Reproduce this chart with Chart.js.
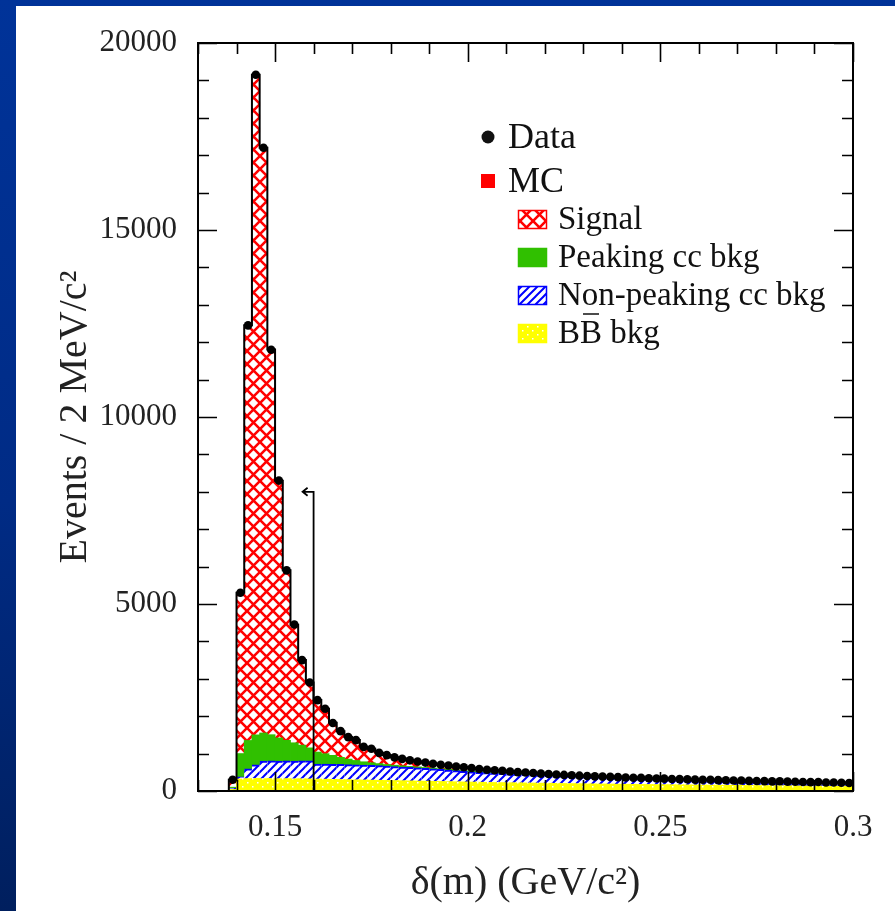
<!DOCTYPE html>
<html>
<head>
<meta charset="utf-8">
<script src="https://cdn.jsdelivr.net/npm/chart.js@4.4.1/dist/chart.umd.min.js"></script>
<style>
    html, body { margin: 0; padding: 0; }
    body {
        width: 895px; height: 911px; position: relative; overflow: hidden;
        background: linear-gradient(to bottom, #003399 0%, #002b85 55%, #001f5e 100%);
    }
    #panel { position: absolute; left: 16px; top: 6px; width: 879px; height: 905px; background: #fff; }
    #wrap { position: absolute; left: 0; top: 0; width: 895px; height: 911px; }
</style>
</head>
<body>
<div id="panel"></div>
<div id="wrap"><canvas id="id1" width="895" height="911"></canvas></div>
<script>
    'use strict'

    // histogram binning: 2 MeV bins starting at 0.138 GeV
    var binLow = 0.138;
    var binWidth = 0.002;

    var dataCounts = [300,
        5300, 12450, 19150, 17200, 11800, 8300, 5900, 4450, 3500, 2900,
        2430, 2200, 1820, 1600, 1440, 1360, 1180, 1130, 1020, 960,
        900, 860, 820, 790, 760, 730, 700, 680, 655, 635,
        615, 590, 570, 555, 540, 520, 505, 495, 480, 465,
        455, 440, 430, 420, 410, 400, 392, 385, 378, 370,
        362, 355, 350, 342, 335, 330, 322, 318, 312, 305,
        300, 301, 290, 287, 280, 282, 270, 268, 265, 258,
        260, 250, 247, 242, 238, 240, 229, 226, 222, 215];

    var bbBkg = [40,
        320, 330, 335, 330, 332, 328, 330, 325, 327, 322,
        318, 315, 310, 306, 302, 298, 295, 290, 286, 282,
        278, 274, 270, 265, 262, 258, 254, 250, 246, 242,
        238, 234, 230, 227, 224, 221, 218, 215, 212, 209,
        206, 203, 200, 198, 195, 192, 190, 187, 185, 182,
        180, 178, 175, 173, 171, 169, 167, 165, 163, 161,
        159, 157, 155, 153, 151, 149, 147, 145, 143, 141,
        139, 137, 135, 133, 131, 129, 127, 125, 123, 121];

    var nonPeakingCC = [30,
        60, 260, 365, 470, 472, 470, 475, 473, 478, 480,
        402, 401, 402, 402, 400, 398, 395, 394, 390, 380,
        372, 366, 358, 353, 343, 332, 321, 310, 299, 283,
        274, 266, 260, 253, 246, 239, 232, 227, 223, 216,
        212, 207, 202, 197, 193, 188, 182, 178, 173, 168,
        165, 160, 158, 154, 149, 146, 142, 139, 136, 133,
        130, 127, 125, 122, 120, 117, 115, 113, 111, 109,
        107, 105, 103, 101, 99, 97, 95, 93, 91, 89];

    var peakingCC = [30,
        620, 760, 800, 750, 700, 620, 550, 490, 420, 350,
        320, 280, 240, 190, 150, 120, 90, 70, 55, 45,
        38, 32, 28, 25, 22, 20, 18, 16, 15, 14,
        13, 12, 12, 11, 11, 10, 10, 9, 9, 9,
        8, 8, 8, 8, 8, 8, 8, 8, 8, 8,
        7, 7, 7, 7, 7, 7, 7, 7, 7, 7,
        6, 6, 6, 6, 6, 6, 6, 6, 6, 6,
        5, 5, 5, 5, 5, 5, 5, 5, 5, 5];

    var signal = [200,
        4300, 11100, 17650, 15650, 10300, 6880, 4550, 3160, 2280, 1750,
        1390, 1200, 870, 700, 590, 545, 400, 375, 290, 255,
        212, 188, 164, 147, 133, 120, 107, 104, 95, 96,
        90, 78, 68, 64, 59, 50, 45, 44, 36, 31,
        29, 22, 20, 17, 14, 12, 12, 12, 12, 12,
        10, 10, 10, 8, 8, 8, 8, 8, 8, 8,
        8, 8, 8, 8, 7, 7, 7, 7, 7, 7,
        7, 7, 6, 6, 6, 6, 6, 6, 6, 6];

    var xTickLabels = [0.15, 0.2, 0.25, 0.3];
    var yTickLabels = [0, 5000, 10000, 15000, 20000];
    var cutValue = 0.16;
    var cutHeight = 8000;

    var legendItems = ["Data", "MC", "Signal", "Peaking cc bkg", "Non-peaking cc bkg", "BB bkg"];

    var serif = "'Liberation Serif', 'DejaVu Serif', serif";

    function makePattern(w, h, draw) {
        var c = document.createElement('canvas');
        c.width = w; c.height = h;
        var g = c.getContext('2d');
        draw(g, w, h);
        return g.createPattern(c, 'repeat');
    }

    var redHatch = makePattern(13, 13, function (g, w, h) {
        g.fillStyle = '#fff'; g.fillRect(0, 0, w, h);
        g.strokeStyle = '#ff0000'; g.lineWidth = 2.6;
        g.beginPath();
        g.moveTo(-2, -2); g.lineTo(w + 2, h + 2);
        g.moveTo(w + 2, -2); g.lineTo(-2, h + 2);
        g.stroke();
    });
    var blueHatch = makePattern(8, 8, function (g, w, h) {
        g.fillStyle = '#fff'; g.fillRect(0, 0, w, h);
        g.strokeStyle = '#0000ff'; g.lineWidth = 2;
        g.beginPath();
        [0, 8, 16].forEach(function (c) { g.moveTo(-2, c + 2); g.lineTo(c + 2, -2); });
        g.stroke();
    });
    var yellowDots = makePattern(10, 8, function (g, w, h) {
        g.fillStyle = '#ffff00'; g.fillRect(0, 0, w, h);
        g.fillStyle = '#fff';
        g.fillRect(2, 2, 1.5, 1.5);
        g.fillRect(7, 6, 1.5, 1.5);
    });
    var green = '#30c000';

    var centers = dataCounts.map(function (v, i) { return +(binLow + binWidth * (i + 0.5)).toFixed(4); });
    function toXY(arr) { return arr.map(function (v, i) { return { x: centers[i], y: v }; }); }

    // outline of the summed MC histogram
    var outline = [{ x: binLow, y: 0 }];
    dataCounts.forEach(function (v, i) {
        outline.push({ x: +(binLow + binWidth * i).toFixed(4), y: bbBkg[i] + nonPeakingCC[i] + peakingCC[i] + signal[i] });
    });
    var binEnd = +(binLow + binWidth * dataCounts.length).toFixed(4);
    outline.push({ x: binEnd, y: 0 });

    var rootFrame = {
        id: 'rootFrame',
        afterDatasetsDraw: function (chart) {
            var ctx = chart.ctx, a = chart.chartArea;
            var xs = chart.scales.x, ys = chart.scales.y;
            ctx.save();
            ctx.strokeStyle = '#000';
            ctx.lineWidth = 1.6;
            ctx.beginPath();
            for (var i = 13; i <= 30; i++) {
                var px = Math.round(xs.getPixelForValue(i / 100)) + 0.5;
                var len = (i % 5 === 0) ? 19 : 11;
                ctx.moveTo(px, a.bottom); ctx.lineTo(px, a.bottom - len);
                ctx.moveTo(px, a.top); ctx.lineTo(px, a.top + len);
            }
            for (var j = 0; j <= 20; j++) {
                var py = Math.round(ys.getPixelForValue(j * 1000)) + 0.5;
                var l2 = (j % 5 === 0) ? 19 : 11;
                ctx.moveTo(a.left, py); ctx.lineTo(a.left + l2, py);
                ctx.moveTo(a.right, py); ctx.lineTo(a.right - l2, py);
            }
            ctx.stroke();

            // selection cut arrow
            var cx = xs.getPixelForValue(cutValue), cy = ys.getPixelForValue(cutHeight);
            ctx.lineWidth = 1.8;
            ctx.beginPath();
            ctx.moveTo(cx, a.bottom); ctx.lineTo(cx, cy); ctx.lineTo(cx - 11, cy);
            ctx.moveTo(cx - 6, cy - 4); ctx.lineTo(cx - 11, cy); ctx.lineTo(cx - 6, cy + 4);
            ctx.stroke();

            ctx.lineWidth = 2;
            ctx.strokeRect(a.left, a.top, a.right - a.left, a.bottom - a.top);
            ctx.restore();
        },
        afterDraw: function (chart) {
            var ctx = chart.ctx;
            ctx.save();
            ctx.fillStyle = '#111';
            ctx.textBaseline = 'alphabetic';
            // Data / MC markers
            ctx.beginPath(); ctx.arc(488, 137, 6.5, 0, Math.PI * 2); ctx.fill();
            ctx.fillStyle = '#ff0000'; ctx.fillRect(481, 174, 14, 14);
            ctx.fillStyle = '#111';
            ctx.font = '36px ' + serif;
            ctx.fillText(legendItems[0], 508, 148);
            ctx.fillText(legendItems[1], 508, 192);

            var fills = [redHatch, green, blueHatch, yellowDots];
            var borders = ['#ff0000', green, '#0000ff', '#ffff00'];
            ctx.font = '33px ' + serif;
            for (var k = 0; k < 4; k++) {
                var top = 210 + k * 38;
                ctx.fillStyle = fills[k];
                ctx.fillRect(518, top, 29, 19);
                ctx.strokeStyle = borders[k]; ctx.lineWidth = 1.5;
                ctx.strokeRect(518.5, top + 0.5, 28, 18);
                ctx.fillStyle = '#111';
                ctx.fillText(legendItems[k + 2], 558, top + 19);
            }
            // bar over the second B
            var bw = ctx.measureText('B').width;
            var by = 210 + 3 * 38 + 19 - 29;
            ctx.strokeStyle = '#111'; ctx.lineWidth = 1.5;
            ctx.beginPath(); ctx.moveTo(558 + bw + 3, by); ctx.lineTo(558 + 2 * bw - 3, by); ctx.stroke();
            ctx.restore();
        }
    };

    var ctxD = document.getElementById("id1").getContext('2d');
    var histChart = new Chart(ctxD, {
        type: 'bar',
        data: {
            datasets: [
                { label: 'BB bkg', data: toXY(bbBkg), backgroundColor: yellowDots, borderWidth: 0, order: 5 },
                { label: 'Non-peaking cc bkg', data: toXY(nonPeakingCC), backgroundColor: blueHatch, borderColor: '#0000ff',
                  borderWidth: { top: 2, left: 0, right: 0, bottom: 0 }, order: 5 },
                { label: 'Peaking cc bkg', data: toXY(peakingCC), backgroundColor: green, borderWidth: 0, order: 5 },
                { label: 'Signal', data: toXY(signal), backgroundColor: redHatch, borderWidth: 0, order: 5 },
                { type: 'line', label: 'MC', stack: 'outline', data: outline, stepped: true, borderColor: '#000',
                  borderWidth: 2, pointRadius: 0, fill: false, order: 2 },
                { type: 'line', label: 'Data', stack: 'points', data: toXY(dataCounts), showLine: false,
                  pointRadius: 4.3, pointBackgroundColor: '#000', pointBorderWidth: 0, order: 1 }
            ]
        },
        options: {
            responsive: false,
            animation: false,
            barPercentage: 1,
            categoryPercentage: 1,
            inflateAmount: 0.4,
            layout: { padding: { top: 43, right: 42, left: 0, bottom: 0 } },
            plugins: { legend: { display: false }, tooltip: { enabled: false } },
            scales: {
                x: {
                    type: 'linear', min: 0.13, max: 0.3, stacked: true, offset: false,
                    grid: { display: false, drawTicks: false },
                    border: { display: false },
                    afterBuildTicks: function (s) { s.ticks = xTickLabels.map(function (v) { return { value: v }; }); },
                    afterFit: function (s) { s.height = 120; },
                    ticks: {
                        padding: 18, maxRotation: 0, autoSkip: false, color: '#222',
                        font: { family: serif, size: 31 },
                        callback: function (v) { return String(v); }
                    },
                    title: { display: true, text: 'δ(m) (GeV/c²)', color: '#222',
                             font: { family: serif, size: 40 }, padding: { top: 0, bottom: 4 } }
                },
                y: {
                    min: 0, max: 20000, stacked: true,
                    grid: { display: false, drawTicks: false },
                    border: { display: false },
                    afterBuildTicks: function (s) { s.ticks = yTickLabels.map(function (v) { return { value: v }; }); },
                    afterFit: function (s) { s.width = 198; },
                    ticks: { padding: 21, color: '#222', font: { family: serif, size: 31 },
                             callback: function (v) { return String(v); } },
                    title: { display: true, text: 'Events / 2 MeV/c²', color: '#222',
                             font: { family: serif, size: 40 }, padding: { top: 51, bottom: 0 } }
                }
            }
        },
        plugins: [rootFrame]
    });
</script>
</body>
</html>
